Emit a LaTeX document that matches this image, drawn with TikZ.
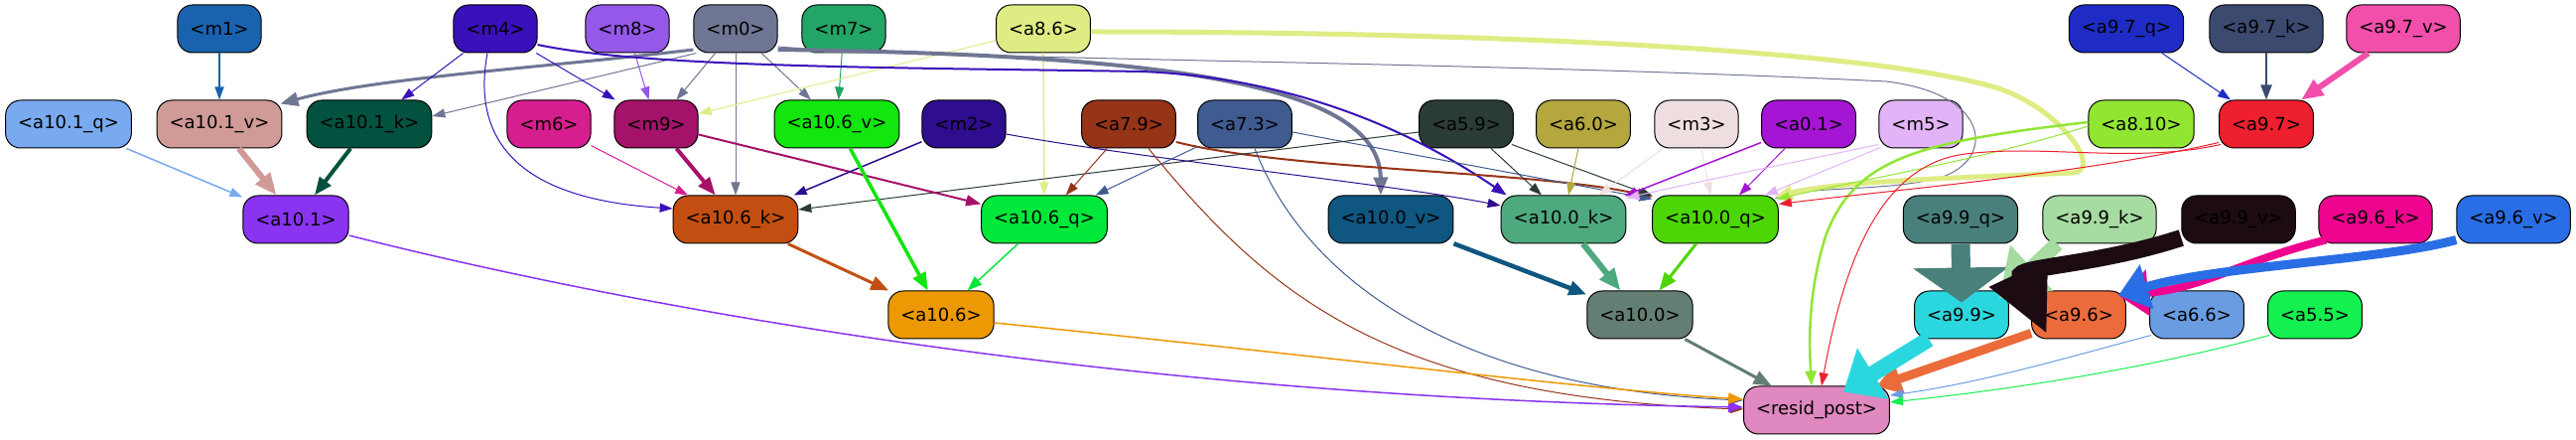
\documentclass[tikz,border=0pt]{standalone}
\usepackage{fontspec}
\setmainfont{DejaVu Sans}
\usetikzlibrary{arrows.meta,calc}
\definecolor{cm1}{HTML}{1A62AE}
\definecolor{cm4}{HTML}{3A10BA}
\definecolor{cm8}{HTML}{9558E8}
\definecolor{cm0}{HTML}{6F7693}
\definecolor{cm7}{HTML}{22A566}
\definecolor{ca86}{HTML}{DFEC84}
\definecolor{ca97q}{HTML}{1E2CC5}
\definecolor{ca97k}{HTML}{3C4A70}
\definecolor{ca97v}{HTML}{F24EAB}
\definecolor{ca101q}{HTML}{79A9EF}
\definecolor{ca101v}{HTML}{D09A96}
\definecolor{ca101k}{HTML}{02523F}
\definecolor{cm6}{HTML}{D71E8F}
\definecolor{cm9}{HTML}{A4126A}
\definecolor{ca106v}{HTML}{12E60E}
\definecolor{cm2}{HTML}{2E0D8E}
\definecolor{ca79}{HTML}{963418}
\definecolor{ca73}{HTML}{3F5B90}
\definecolor{ca59}{HTML}{2B3C38}
\definecolor{ca60}{HTML}{B3A73E}
\definecolor{cm3}{HTML}{EFDEDF}
\definecolor{ca01}{HTML}{A415D4}
\definecolor{cm5}{HTML}{E2B4F7}
\definecolor{ca810}{HTML}{92E632}
\definecolor{ca97}{HTML}{EE1F2F}
\definecolor{ca101}{HTML}{8A33F0}
\definecolor{ca106k}{HTML}{C24F11}
\definecolor{ca106q}{HTML}{00E83A}
\definecolor{ca100v}{HTML}{0F5680}
\definecolor{ca100k}{HTML}{4EAA7E}
\definecolor{ca100q}{HTML}{4DD605}
\definecolor{ca99q}{HTML}{4A807B}
\definecolor{ca99k}{HTML}{A6DBA1}
\definecolor{ca99v}{HTML}{1C0B13}
\definecolor{ca96k}{HTML}{EE048F}
\definecolor{ca96v}{HTML}{2A6EE6}
\definecolor{ca106}{HTML}{ED9904}
\definecolor{ca100}{HTML}{637E72}
\definecolor{ca99}{HTML}{2BD7DE}
\definecolor{ca96}{HTML}{EB6B3B}
\definecolor{ca66}{HTML}{6A9CE2}
\definecolor{ca55}{HTML}{14F04F}
\definecolor{crp}{HTML}{E088C0}
\tikzset{
  box/.style={draw=black, line width=1pt, rounded corners=15pt, minimum height=48pt,
    inner xsep=12.5pt, inner ysep=0pt, font=\fontsize{18}{20}\selectfont, text=black},
  ea/.style={line width=1pt, -{Triangle[length=13pt,width=9pt]}},
  eb/.style={line width=2pt, -{Triangle[length=15pt,width=11pt]}},
  ec/.style={line width=3.5pt, -{Triangle[length=18pt,width=14pt]}},
  ed/.style={line width=6pt, -{Triangle[length=22pt,width=18pt]}},
  hv/.style 2 args={-{Triangle[length=#1,width=#2]}}
}
\begin{document}
\begin{tikzpicture}[x=1pt,y=-1pt]
\fill[white] (0,0) rectangle (2595,443);
\useasboundingbox (0,0) rectangle (2595,443);
% row 1
\node[box, fill=cm1] (m1) at (221,29) {<m1>};
\node[box, fill=cm4] (m4) at (499,29) {<m4>};
\node[box, fill=cm8] (m8) at (632,29) {<m8>};
\node[box, fill=cm0] (m0) at (741,29) {<m0>};
\node[box, fill=cm7] (m7) at (850,29) {<m7>};
\node[box, fill=ca86] (a86) at (1051,29) {<a8.6>};
\node[box, fill=ca97q] (a97q) at (2142,29) {<a9.7\_q>};
\node[box, fill=ca97k] (a97k) at (2283,29) {<a9.7\_k>};
\node[box, fill=ca97v] (a97v) at (2421,29) {<a9.7\_v>};
% row 2
\node[box, fill=ca101q] (a101q) at (69,125) {<a10.1\_q>};
\node[box, fill=ca101v] (a101v) at (221,125) {<a10.1\_v>};
\node[box, fill=ca101k] (a101k) at (372,125) {<a10.1\_k>};
\node[box, fill=cm6] (m6) at (553,125) {<m6>};
\node[box, fill=cm9] (m9) at (661,125) {<m9>};
\node[box, fill=ca106v] (a106v) at (843,125) {<a10.6\_v>};
\node[box, fill=cm2] (m2) at (971,125) {<m2>};
\node[box, fill=ca79] (a79) at (1137,125) {<a7.9>};
\node[box, fill=ca73] (a73) at (1254,125) {<a7.3>};
\node[box, fill=ca59] (a59) at (1477,125) {<a5.9>};
\node[box, fill=ca60] (a60) at (1595,125) {<a6.0>};
\node[box, fill=cm3] (m3) at (1709,125) {<m3>};
\node[box, fill=ca01] (a01) at (1822,125) {<a0.1>};
\node[box, fill=cm5] (m5) at (1935,125) {<m5>};
\node[box, fill=ca810] (a810) at (2157,125) {<a8.10>};
\node[box, fill=ca97] (a97) at (2283,125) {<a9.7>};
% row 3
\node[box, fill=ca101] (a101) at (298,221) {<a10.1>};
\node[box, fill=ca106k] (a106k) at (741,221) {<a10.6\_k>};
\node[box, fill=ca106q] (a106q) at (1052,221) {<a10.6\_q>};
\node[box, fill=ca100v] (a100v) at (1401,221) {<a10.0\_v>};
\node[box, fill=ca100k] (a100k) at (1575,221) {<a10.0\_k>};
\node[box, fill=ca100q] (a100q) at (1728,221) {<a10.0\_q>};
\node[box, fill=ca99q] (a99q) at (1975,221) {<a9.9\_q>};
\node[box, fill=ca99k] (a99k) at (2115,221) {<a9.9\_k>};
\node[box, fill=ca99v] (a99v) at (2255,221) {<a9.9\_v>};
\node[box, fill=ca96k] (a96k) at (2393,221) {<a9.6\_k>};
\node[box, fill=ca96v] (a96v) at (2532,221) {<a9.6\_v>};
% row 4
\node[box, fill=ca106] (a106) at (948,317) {<a10.6>};
\node[box, fill=ca100] (a100) at (1652,317) {<a10.0>};
\node[box, fill=ca99] (a99) at (1976,317) {<a9.9>};
\node[box, fill=ca96] (a96) at (2094,317) {<a9.6>};
\node[box, fill=ca66] (a66) at (2213,317) {<a6.6>};
\node[box, fill=ca55] (a55) at (2332,317) {<a5.5>};
% row 5
\node[box, fill=crp] (rp) at (1830,413) {<resid\_post>};

% edges row 1 -> row 2
\draw[ea, line width=1.5pt, cm1] (m1) -- (a101v);
\draw[ec, line width=3pt, cm0] ($(m0.west)+(0,21)$) .. controls (550,68) and (380,78) .. ($(a101v.north east)+(-2,4)$);
\draw[ea, cm0] ($(m0.south west)+(3,0)$) -- ($(a101k.east)+(0,-8)$);
\draw[ea, cm4] (m4) -- (a101k);
\draw[ea, cm4] (m4) -- (m9);
\draw[ea, cm8] (m8) -- (m9);
\draw[ea, cm0] (m0) -- (m9);
\draw[ea, cm0] (m0) -- (a106k);
\draw[ea, cm0] (m0) -- (a106v);
\draw[ea, cm7] (m7) -- (a106v);
\draw[ea, ca86] (a86) -- (m9);
\draw[ea, line width=1.5pt, ca86] (a86) -- (a106q);
\draw[ea, cm4] ($(m4.south)+(-8,0)$) .. controls (475,140) and (520,200) .. ($(a106k.west)+(0,-11)$);
% long curves
\draw[ec, line width=4pt, cm0] ($(m0.east)+(0,21)$) .. controls (1150,55) and (1390,80) .. ($(a100v.north)+(-10,0)$);
\draw[eb, cm4] ($(m4.east)+(0,16)$) .. controls (650,68) and (900,68) .. (1150,72) .. controls (1300,78) and (1420,130) .. ($(a100k.north west)+(6,0)$);
\draw[ea, cm0] ($(m0.east)+(0,18)$) .. controls (950,60) and (1500,62) .. (1900,82) .. controls (2010,95) and (2010,165) .. (1950,180) .. controls (1900,192) and (1830,188) .. ($(a100q.north east)+(-4,3)$);
\draw[ec, line width=5pt, ca86] ($(a86.east)+(0,3)$) .. controls (1500,32) and (1880,50) .. (2010,88) .. controls (2075,108) and (2120,172) .. (2088,174) .. controls (2000,178) and (1850,182) .. ($(a100q.north east)+(-4,2)$);
\draw[ea, ca810] ($(a810.west)+(0,2)$) .. controls (2000,160) and (1880,180) .. ($(a100q.north east)+(-2,4)$);
\draw[eb, line width=2.5pt, ca810] ($(a810.west)+(0,-2)$) .. controls (1930,143) and (1870,160) .. (1840,235) .. controls (1822,290) and (1822,340) .. ($(rp.north)+(-5,0)$);
\draw[ea, ca97] ($(a97.south west)+(2,-4)$) .. controls (2150,165) and (2060,145) .. (1980,155) .. controls (1900,165) and (1860,250) .. ($(rp.north)+(5,0)$);
\draw[ea, ca97] ($(a97.south west)+(0,-6)$) .. controls (2100,175) and (1900,192) .. ($(a100q.north east)+(0,9)$);
% into a10.0_k / a10.0_q
\draw[eb, ca79] ($(a79.east)+(0,18)$) .. controls (1300,172) and (1550,172) .. ($(a100q.north west)+(0,2)$);
\draw[ea, ca73] ($(a73.east)+(0,8)$) -- ($(a100q.north west)+(0,4)$);
\draw[ea, ca59] ($(a59.south east)+(-2,-4)$) -- ($(a100q.north west)+(1,1)$);
\draw[ea, ca59] ($(a59.south)+(25,0)$) -- ($(a100k.north)+(-22,0)$);
\draw[ea, ca59] ($(a59.west)+(0,8)$) -- ($(a106k.east)+(0,-10)$);
\draw[ea, ca60] (a60) -- (a100k);
\draw[ea, cm3] (m3) -- ($(a100k.north east)+(-28,0)$);
\draw[ea, cm3] (m3) -- (a100q);
\draw[ea, line width=1.5pt, ca01] ($(a01.south west)+(0,-6)$) -- ($(a100k.north east)+(-2,1)$);
\draw[ea, ca01] (a01) -- (a100q);
\draw[ea, cm5] ($(m5.south west)+(0,-4)$) .. controls (1800,165) and (1700,185) .. ($(a100k.north east)+(0,3)$);
\draw[ea, cm5] ($(m5.south west)+(2,-1)$) -- ($(a100q.north east)+(-14,0)$);
\draw[ea, cm2] ($(m2.east)+(0,10)$) .. controls (1150,160) and (1400,185) .. ($(a100k.west)+(0,-14)$);
% into a10.6_k / a10.6_q
\draw[ec, line width=4pt, cm9] (m9) -- (a106k);
\draw[ea, cm6] (m6) -- (a106k);
\draw[eb, cm9] (m9) -- (a106q);
\draw[ea, line width=1.5pt, cm2] (m2) -- (a106k);
\draw[ea, ca79] (a79) -- (a106q);
\draw[ea, ca73] (a73) -- (a106q);
% to resid_post from left
\draw[ea, ca79] ($(a79.south)+(20,0)$) .. controls (1280,300) and (1400,400) .. ($(rp.west)+(0,-1)$);
\draw[ea, ca73] ($(a73.south)+(10,0)$) .. controls (1310,270) and (1450,390) .. ($(rp.west)+(0,-10)$);
\draw[eb, line width=1.5pt, ca101] ($(a101.east)+(0,16)$) .. controls (600,300) and (1100,400) .. ($(rp.west)+(0,-3)$);
\draw[eb, line width=1.5pt, ca106] ($(a106.east)+(0,8)$) .. controls (1300,355) and (1600,392) .. ($(rp.west)+(0,-11)$);
% row 3 -> row 4
\draw[ec, line width=3pt, ca106k] (a106k) -- (a106);
\draw[ec, ca106v] (a106v) -- (a106);
\draw[eb, line width=1.5pt, ca106q] (a106q) -- (a106);
\draw[ec, line width=4.5pt, ca100v] (a100v) -- (a100);
\draw[ed, ca100k] (a100k) -- (a100);
\draw[ec, line width=3pt, ca100q] (a100q) -- (a100);
\draw[ec, line width=3pt, ca100] (a100) -- (rp);
% a10.1
\draw[ea, line width=1.5pt, ca101q] (a101q) -- (a101);
\draw[ed, ca101v] (a101v) -- (a101);
\draw[ec, line width=4pt, ca101k] (a101k) -- (a101);
% a9.7
\draw[ea, ca97q] (a97q) -- (a97);
\draw[eb, ca97k] (a97k) -- (a97);
\draw[ed, ca97v] (a97v) -- (a97);
% heavy a9.x
\draw[hv={35pt}{95pt}, line width=19pt, ca99q] (a99q.south) -- ($(a99.north)+(0,12)$);
\draw[hv={45pt}{60pt}, line width=15pt, ca99k] ($(a99k.south west)+(15,0)$) -- ($(a99.north east)+(-10,8)$);
\draw[hv={68pt}{60pt}, line width=17pt, ca99v] ($(a99v.south west)+(0,-6)$) .. controls (2110,268) and (2030,268) .. ($(a96.south west)+(16,-5)$);
\draw[hv={30pt}{45pt}, line width=8pt, ca96k] ($(a96k.south west)+(8,-4)$) .. controls (2260,262) and (2220,290) .. ($(a96.north east)+(-8,5)$);
\draw[hv={30pt}{45pt}, line width=9pt, ca96v] ($(a96v.south west)+(0,-4)$) .. controls (2400,262) and (2230,268) .. ($(a96.north east)+(-8,5)$);
\draw[hv={25pt}{30pt}, line width=9pt, ca96] ($(a96.south west)+(0,-6)$) -- ($(rp.north east)+(-14,1)$);
\draw[hv={35pt}{58pt}, line width=16pt, ca99] ($(a99.south west)+(15,0)$) -- ($(rp.north)+(27,6)$);
\draw[ea, ca66] ($(a66.south west)+(2,-4)$) .. controls (2100,355) and (2000,385) .. ($(rp.east)+(0,-15)$);
\draw[ea, ca55] ($(a55.south west)+(2,-4)$) .. controls (2150,375) and (2000,395) .. ($(rp.east)+(0,-8)$);
\end{tikzpicture}
\end{document}
